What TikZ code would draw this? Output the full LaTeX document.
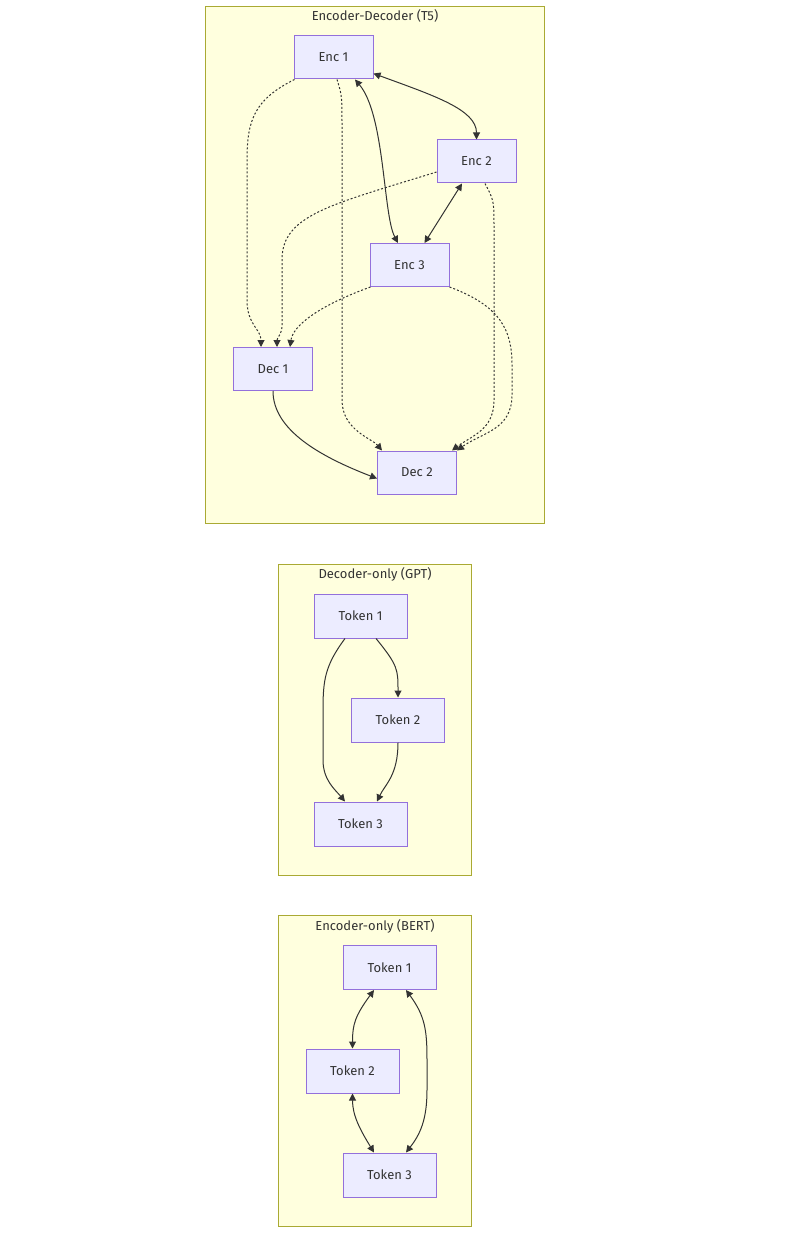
\documentclass[tikz,border=0pt]{standalone}
\usepackage{fontspec}
\setmainfont{Fira Sans}
\usetikzlibrary{arrows.meta}
\definecolor{clfill}{HTML}{FFFFDE}
\definecolor{cldraw}{HTML}{AAAA33}
\definecolor{ndfill}{HTML}{ECECFF}
\definecolor{nddraw}{HTML}{9370DB}
\definecolor{ln}{HTML}{333333}
\tikzset{
  cluster/.style={draw=cldraw,fill=clfill,line width=1pt},
  cltitle/.style={text=ln,font=\fontsize{13}{15}\selectfont,inner sep=0pt},
  encbox/.style={draw=nddraw,fill=ndfill,line width=1pt,minimum width=79pt,minimum height=43pt,inner sep=0pt,text=ln,font=\fontsize{13}{15}\selectfont},
  tokbox/.style={encbox,minimum width=93pt,minimum height=44pt},
  solidarrow/.style={draw=ln,line width=1pt,-{Triangle[length=7pt,width=7pt]}},
  biarrow/.style={draw=ln,line width=1pt,{Triangle[length=7pt,width=7pt]}-{Triangle[length=7pt,width=7pt]}},
  dotarrow/.style={draw=ln,line width=1pt,dash pattern=on 2pt off 2pt,-{Triangle[length=7pt,width=7pt]}},
}
\begin{document}
\begin{tikzpicture}[x=1pt,y=-1pt]
\useasboundingbox (0,0) rectangle (800,1233);
\fill[white] (0,0) rectangle (800,1233);
% clusters
\draw[cluster] (205.5,6.5) rectangle (544.5,523.5);
\node[cltitle] (t1) at (375,16) {Encoder-Decoder (T5)};
\draw[cluster] (278.5,564.5) rectangle (471.5,875.5);
\node[cltitle] (t2) at (375,574) {Decoder-only (GPT)};
\draw[cluster] (278.5,915.5) rectangle (471.5,1226.5);
\node[cltitle] (t3) at (375,926) {Encoder-only (BERT)};
% nodes T5
\node[encbox] (enc1) at (333.5,57.5) {Enc 1};
\node[encbox] (enc2) at (476.5,161.5) {Enc 2};
\node[encbox] (enc3) at (409.5,265) {Enc 3};
\node[encbox] (dec1) at (273,369) {Dec 1};
\node[encbox] (dec2) at (417,472.5) {Dec 2};
% GPT
\node[tokbox] (g1) at (360.5,616) {Token 1};
\node[tokbox] (g2) at (398,720) {Token 2};
\node[tokbox] (g3) at (360.5,824) {Token 3};
% BERT
\node[tokbox] (b1) at (389.5,967.5) {Token 1};
\node[tokbox] (b2) at (352.5,1071) {Token 2};
\node[tokbox] (b3) at (389.5,1175) {Token 3};
% T5 edges
\path[biarrow] ([yshift=-16pt]enc1.east) .. controls +(60,22) and +(0,-30) .. (enc2.north);
\path[biarrow] ([xshift=21.5pt]enc1.south) .. controls (385,115) and (383,215) .. ([xshift=-11.5pt]enc3.north);
\path[biarrow] ([xshift=-14.5pt]enc2.south) -- ([xshift=15pt]enc3.north);
\path[dotarrow] ([xshift=1pt]enc1.south west) .. controls +(-40,20) and +(0,-40) .. (247,160) -- (247,300) .. controls +(0,25) and +(0,-18) .. ([xshift=-12pt]dec1.north);
\path[dotarrow] ([xshift=3.5pt]enc1.south) .. controls +(5,16) .. (342,130) -- (342,400) .. controls +(0,30) and +(-10,-12) .. ([xshift=-35pt]dec2.north);
\path[dotarrow] ([yshift=-10.5pt]enc2.west) .. controls (330,205) and (282,215) .. (282,260) -- (282,325) .. controls +(0,10) and +(0,-10) .. ([xshift=4pt]dec1.north);
\path[dotarrow] ([xshift=8.5pt]enc2.south) .. controls +(9,17) .. (494,230) -- (494,400) .. controls +(0,30) and +(20,-15) .. ([xshift=35pt]dec2.north);
\path[dotarrow] ([xshift=1pt]enc3.south west) .. controls +(-50,18) and +(3,-22) .. ([xshift=17pt]dec1.north);
\path[dotarrow] (enc3.south east) .. controls +(51,19) and +(0,-35) .. (512,365) -- (512,395) .. controls +(0,35) and +(25,-18) .. ([xshift=40pt]dec2.north);
\path[solidarrow] (dec1.south) .. controls +(0,39) and +(-57,-22) .. ([yshift=-6pt]dec2.west);
% GPT edges
\path[solidarrow] ([xshift=15.5pt]g1.south) .. controls +(22,27) and +(0,-28) .. (g2.north);
\path[solidarrow] ([xshift=-15.5pt]g1.south) .. controls +(-20,27) and +(0,-30) .. (323,710) -- (323,760) .. controls +(0,20) and +(-10,-12) .. ([xshift=-15.5pt]g3.north);
\path[solidarrow] (g2.south) .. controls +(0,33) and +(8,-17) .. ([xshift=16.5pt]g3.north);
% BERT edges
\path[biarrow] ([xshift=-15.5pt]b1.south) .. controls +(-19,26) and +(0,-24) .. (b2.north);
\path[biarrow] ([xshift=16.5pt]b1.south) .. controls +(19,26) and +(0,-30) .. (427,1060) -- (427,1090) .. controls +(0,30) and +(14,-18) .. ([xshift=16.5pt]b3.north);
\path[biarrow] (b2.south) .. controls +(0,22) and +(-14,-23) .. ([xshift=-15.5pt]b3.north);
\end{tikzpicture}
\end{document}
